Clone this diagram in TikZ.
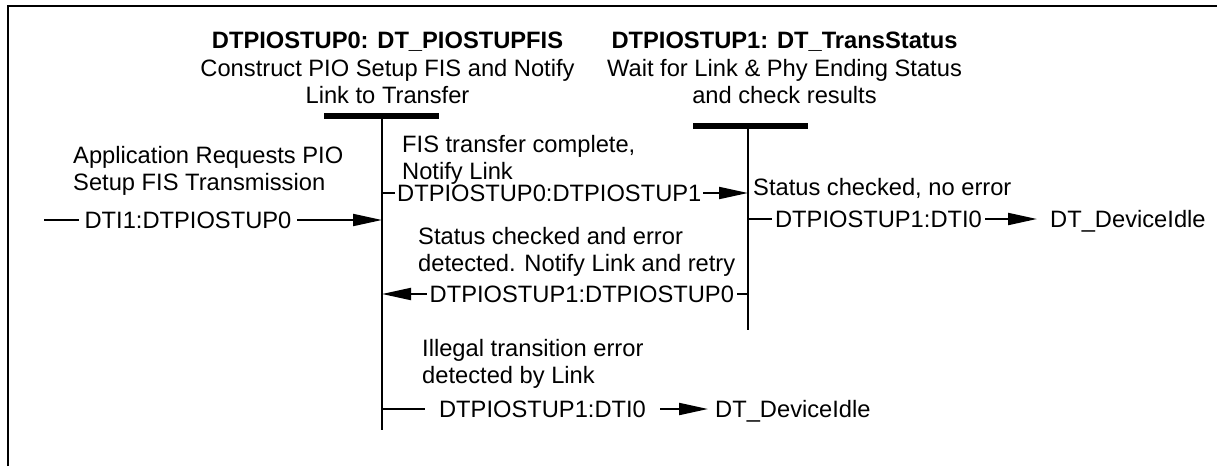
\documentclass[tikz,border=0pt]{standalone}
\usepackage{fontspec}
\setmainfont{Liberation Sans}
\usetikzlibrary{arrows.meta,positioning,calc}
\tikzset{
  txt/.style={font=\fontsize{23.7}{27.5}\selectfont, inner sep=0pt},
  statetitle/.style={txt, align=center, anchor=base},
  note/.style={txt, align=left, anchor=base west},
  lbl/.style={txt, fill=white, text depth=0pt, inner xsep=#1},
  lbl/.default={3pt},
  idle/.style={txt, anchor=west, text depth=0pt},
  bar/.style={line width=5.5pt},
  lifeline/.style={line width=2pt},
  trans/.style={line width=2pt, -{Triangle[length=29pt,width=12pt]}},
  frame/.style={line width=2pt},
}

\begin{document}
\begin{tikzpicture}[x=1pt, y=-1pt]
  \useasboundingbox (0,0) rectangle (1217,466);
  \draw[frame] (8,466) -- (8,6) -- (1217,6);

  % states (base = last line)
  \node[statetitle] (st0) at (387.5,103.5)
    {\textbf{DTPIOSTUP0: DT\_PIOSTUPFIS}\\Construct PIO Setup FIS and Notify\\Link to Transfer};
  \node[statetitle] (st1) at (784.5,103.5)
    {\textbf{DTPIOSTUP1: DT\_TransStatus}\\Wait for Link \& Phy Ending Status\\and check results};

  \coordinate (s0top) at (382,116);
  \coordinate (s0bot) at (382,430);
  \coordinate (s1top) at (748,126);
  \coordinate (s1bot) at (748,330);
  \draw[bar] ([xshift=-58pt]s0top) -- ([xshift=57pt]s0top);
  \draw[bar] ([xshift=-55pt]s1top) -- ([xshift=60pt]s1top);
  \draw[lifeline] (s0top) -- (s0bot);
  \draw[lifeline] (s1top) -- (s1bot);

  % entry into DTPIOSTUP0
  \coordinate (entry) at (44,220);
  \node[note] (n0) at (73,190.5) {Application Requests PIO\\Setup FIS Transmission};
  \draw[trans] (entry) -- node[lbl=5.5pt, pos=0.426] {DTI1:DTPIOSTUP0} (s0top |- entry);

  % DTPIOSTUP0 -> DTPIOSTUP1
  \node[note] (n1) at (402,179.5) {FIS transfer complete,\\Notify Link};
  \draw[trans] (s0top |- 0,193) -- node[lbl=2pt, pos=0.457] {DTPIOSTUP0:DTPIOSTUP1} (s1top |- 0,193);

  % DTPIOSTUP1 -> idle
  \node[note] (n2) at (753,195) {Status checked, no error};
  \node[idle] (idle0) at (1050,219) {DT\_DeviceIdle};
  \draw[trans, shorten >=13pt] (s1top |- idle0) -- node[lbl=3pt, pos=0.432] {DTPIOSTUP1:DTI0} (idle0);

  % DTPIOSTUP1 -> DTPIOSTUP0
  \node[note] (n3) at (418,271.5) {Status checked and error\\detected. Notify Link and retry};
  \draw[trans] (s1top |- 0,294) -- node[lbl=3pt, pos=0.454] {DTPIOSTUP1:DTPIOSTUP0} (s0top |- 0,294);

  % DTPIOSTUP0 -> idle
  \node[note] (n4) at (422,383.5) {Illegal transition error\\detected by Link};
  \node[idle] (idle1) at (715,409) {DT\_DeviceIdle};
  \draw[trans, shorten >=7pt] (s0top |- idle1) -- node[lbl=14pt, pos=0.482] {DTPIOSTUP1:DTI0} (idle1);
\end{tikzpicture}
\end{document}
